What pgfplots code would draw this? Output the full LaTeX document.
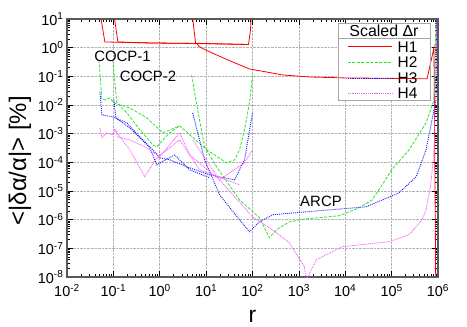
\documentclass[border=0pt]{standalone}
\usepackage{pgfplots}
\pgfplotsset{compat=1.18}
\usepackage{fontspec}
\setmainfont{Liberation Sans}
\definecolor{lred}{RGB}{255,0,0}
\definecolor{lgreen}{RGB}{40,230,40}
\definecolor{lblue}{RGB}{30,30,255}
\definecolor{lpink}{RGB}{255,90,255}
\tikzset{
 sH1/.style={draw=lred, line width=0.8pt},
 sH2/.style={draw=lgreen, line width=0.8pt, dash pattern=on 3pt off 1.5pt},
 sH3/.style={draw=lblue, line width=0.9pt, dash pattern=on 1pt off 1pt},
 sH4/.style={draw=lpink, line width=0.8pt, dash pattern=on 1pt off 0.8pt},
}
\begin{document}
\begin{tikzpicture}
\useasboundingbox (-67bp,-50bp) rectangle (400bp,277bp);
\begin{axis}[
 at={(0,0)}, anchor=south west, scale only axis, width=371bp, height=258bp,
 xmode=log, ymode=log, xmin=1e-2, xmax=1e6, ymin=1e-8, ymax=1e1,
 xtick={1e-2,1e-1,1,1e1,1e2,1e3,1e4,1e5,1e6},
 xticklabels={10\textsuperscript{-2},10\textsuperscript{-1},10\textsuperscript{0},10\textsuperscript{1},10\textsuperscript{2},10\textsuperscript{3},10\textsuperscript{4},10\textsuperscript{5},10\textsuperscript{6}},
 ytick={1e-8,1e-7,1e-6,1e-5,1e-4,1e-3,1e-2,1e-1,1,1e1},
 yticklabels={10\textsuperscript{-8},10\textsuperscript{-7},10\textsuperscript{-6},10\textsuperscript{-5},10\textsuperscript{-4},10\textsuperscript{-3},10\textsuperscript{-2},10\textsuperscript{-1},10\textsuperscript{0},10\textsuperscript{1}},
 ticklabel style={font=\fontsize{14.5}{15}\selectfont},
 xticklabel style={yshift=-4bp},
 grid=major, major grid style={densely dotted, gray!60, line width=0.5pt},
 axis line style={black!65, line width=1.2pt},
 major tick length=6bp, minor tick length=3bp,
 every tick/.style={black, line width=0.6pt},
 xlabel={r}, ylabel={<|δα/α|> [\%]},
 every axis x label/.style={at={(axis description cs:0.5,-0.151)}, anchor=center, font=\fontsize{23}{23}\selectfont},
 every axis y label/.style={at={(axis description cs:-0.127,0.45)}, rotate=90, anchor=center, font=\fontsize{24}{24}\selectfont},
]
\fill[white] (rel axis cs:0.7305,0.686) rectangle (rel axis cs:0.978,0.984);
% H1
\addplot[sH1] coordinates {(0.0505,20) (0.0656,1.58) (0.61,1.46) (6.25,1.40) (82,1.29) (90.6,4.14) (95,20)};
\addplot[sH1] coordinates {(0.1,20) (0.125,1.58) (0.61,1.46) (6.25,1.40) (7.24,1.06) (10.3,0.80) (16.8,0.557) (37.2,0.318) (86,0.181) (200,0.142) (442,0.112) (1683,0.095) (1e4,0.088) (1e5,0.085) (5.8e5,0.082) (8.2e5,1.0) (9.0e5,1e-9)};
\addplot[sH1] coordinates {(4.88,20) (5.94,1.42) (82,1.29)};
% H2
\addplot[sH2] coordinates {(0.0488,0.372) (0.0566,0.0163) (0.0656,0.0151) (0.0841,0.0177) (0.1026,0.0118) (0.226,7.92e-3) (0.525,3.56e-3) (1.16,1.07e-3) (2.69,1.87e-3) (10.3,2.73e-4) (27.6,9.6e-5) (41,1.22e-4) (52.5,2.73e-4) (67.3,1.36e-3) (86,0.0118) (100,0.112)};
\addplot[sH2] coordinates {(0.0975,0.372) (0.119,0.0118) (0.195,5.31e-3) (0.372,1.36e-3) (0.706,4.07e-4) (0.861,3.47e-4) (1.16,6e-4) (1.64,1.07e-3) (2.69,1.87e-3)};
\addplot[sH2] coordinates {(4.88,0.112) (6.56,6.75e-3) (9.29,3.47e-4) (16.8,7.0e-5) (52.5,4.93e-6) (142,1.16e-6) (232,2.34e-7) (328,4.45e-7) (625,8.45e-7) (1449,1.07e-6) (7430,1.37e-6) (2.0e4,2.6e-6) (3.81e4,4.93e-6) (6.25e4,1.64e-5) (1e5,5.48e-5) (2.38e5,2.73e-4) (5.53e5,2.38e-3) (8.2e5,0.0151) (9.06e5,10) (9.2e5,30)};
% H3
\addplot[sH3] coordinates {(0.0513,0.0286) (0.0566,4.52e-3) (0.0975,3.85e-3) (0.195,2.38e-3) (0.372,7.74e-4) (0.706,2.73e-4) (1,1.44e-4) (1.64,1.22e-4) (4.42,6.43e-5) (11.9,3.66e-5) (41,2.45e-5) (67.3,1.22e-4) (100,5.31e-3)};
\addplot[sH3] coordinates {(0.1026,0.0151) (0.113,3.56e-3) (0.226,1.59e-3) (0.61,3.2e-4) (0.861,8.2e-5) (2.10,1.82e-4) (4.42,5.48e-5) (11.9,2.88e-5)};
\addplot[sH3] coordinates {(5.13,5.31e-3) (9.29,1.22e-4) (19.5,7.4e-6) (52.5,9.9e-7) (86,3.79e-7) (142,8.45e-7) (269,1.48e-6) (1449,1.88e-6) (2.83e4,2.81e-6) (1.45e5,8.65e-6) (3.37e5,3.13e-5) (5.53e5,2.73e-4) (7.43e5,3.03e-3) (9.06e5,0.0151) (9.3e5,30)};
% H4
\addplot[sH4] coordinates {(0.0513,1.59e-3) (0.0566,7.14e-4) (0.0724,1.07e-3) (0.0975,9.08e-4) (0.1076,1.47e-3) (0.125,7.74e-4) (0.226,6.08e-4) (0.475,3.47e-4) (1,1.56e-4) (2.69,1.07e-3) (4.42,1.82e-4) (19.5,2.45e-5) (67.3,9.6e-5) (100,2.73e-4)};
\addplot[sH4] coordinates {(0.1076,1.36e-3) (0.226,2.73e-4) (0.475,3.13e-5) (0.861,1.44e-4) (2.69,6.08e-4) (7.24,5.48e-5) (52.5,1.64e-5)};
\addplot[sH4] coordinates {(5.13,6.08e-4) (19.5,2.45e-5) (100,1.26e-6) (269,4.45e-7) (625,1.57e-7) (1312,2.29e-8) (1449,8e-9) (1857,1.79e-8) (2378,4.0e-8) (5250,7.6e-8) (8.6e3,1.14e-7) (8.83e4,1.7e-7) (2.38e5,2.98e-7) (4.53e5,9.9e-7) (5.53e5,2.21e-6) (7.06e5,1.93e-5) (8.2e5,2.73e-4) (9.4e5,10)};
\end{axis}
% legend (drawn by hand: frame, title, separator, samples, names)
\draw[gray!70, line width=0.8pt] (271bp,177bp) rectangle (363bp,254bp);
\draw[gray!70, line width=0.8pt] (271bp,239bp) -- (363bp,239bp);
\node[font=\fontsize{16}{16}\selectfont] at (317bp,246.5bp) {Scaled Δr};
\node[font=\fontsize{15.5}{16}\selectfont, anchor=east] at (354bp,230bp) {H1};
\node[font=\fontsize{15.5}{16}\selectfont, anchor=east] at (354bp,215bp) {H2};
\node[font=\fontsize{15.5}{16}\selectfont, anchor=east] at (354bp,199bp) {H3};
\node[font=\fontsize{15.5}{16}\selectfont, anchor=east] at (354bp,184bp) {H4};
\draw[red, line width=0.9pt] (281bp,231bp) -- (325bp,231bp);
\path[sH2] (281bp,215bp) -- (325bp,215bp);
\path[draw=lblue, line width=1.1pt, dash pattern=on 1.2pt off 1pt] (281bp,198.3bp) -- (325bp,198.3bp);
\path[draw=lpink, line width=1.1pt, dash pattern=on 1.2pt off 1pt] (281bp,183.3bp) -- (325bp,183.3bp);
% curve family labels
\node[font=\fontsize{15}{15}\selectfont] at (55.5bp,221bp) {COCP-1};
\node[font=\fontsize{15}{15}\selectfont] at (81bp,201bp) {COCP-2};
\node[font=\fontsize{15}{15}\selectfont] at (254bp,76bp) {ARCP};
\end{tikzpicture}
\end{document}
